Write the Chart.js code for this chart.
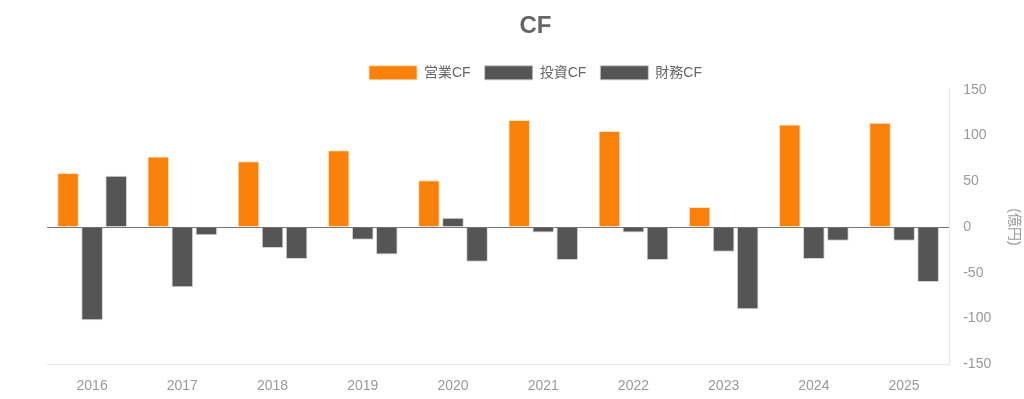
<!DOCTYPE html>
<html>
<head>
<meta charset="utf-8">
<script src="https://cdn.jsdelivr.net/npm/chart.js@4"></script>
<style>
html,body{margin:0;padding:0;background:#fff;}
#wrap{width:1024px;height:399px;position:relative;}
</style>
</head>
<body>
<div id="wrap"><canvas id="c" width="1024" height="399"></canvas></div>
<script>
const categories = ['2016','2017','2018','2019','2020','2021','2022','2023','2024','2025'];
const operatingCF = [59, 77, 72, 84, 51, 117, 105, 22, 112, 114];
const investingCF = [-102, -66, -23, -14, 10, -6, -6, -27, -35, -15];
const financingCF = [56, -9, -35, -30, -38, -36, -36, -90, -15, -60];
const seriesNames = ['営業CF', '投資CF', '財務CF'];
const yTicks = { min: -150, max: 150, step: 50 };
const titleText = 'CF';
const axisTitle = '(億円)';

const FONT = "'Liberation Sans', Arial, 'Noto Sans CJK JP', sans-serif";
Chart.defaults.font.family = FONT;

new Chart(document.getElementById('c'), {
  type: 'bar',
  data: {
    labels: categories,
    datasets: [
      { label: seriesNames[0], data: operatingCF, backgroundColor: '#fb820a', borderColor: 'rgba(255,220,180,0.8)', borderWidth: 1 },
      { label: seriesNames[1], data: investingCF, backgroundColor: '#555555', borderColor: 'rgba(200,200,200,0.8)', borderWidth: 1 },
      { label: seriesNames[2], data: financingCF, backgroundColor: '#555555', borderColor: 'rgba(200,200,200,0.8)', borderWidth: 1 }
    ]
  },
  options: {
    responsive: false,
    animation: false,
    layout: { padding: { left: 47, right: 0, top: 8, bottom: -10 } },
    plugins: {
      title: {
        display: true, text: titleText, color: '#666',
        font: { size: 24, weight: 'bold', family: FONT },
        padding: { top: 4, bottom: 11 }
      },
      legend: {
        position: 'top',
        labels: { boxWidth: 48, boxHeight: 14, color: '#666', font: { size: 14, family: FONT }, padding: 14 }
      },
      tooltip: { enabled: false }
    },
    scales: {
      x: {
        grid: { display: false, drawTicks: false },
        border: { display: true, color: '#e6e6e6' },
        ticks: { color: '#999', font: { size: 14 }, padding: 14 }
      },
      y: {
        position: 'right',
        min: yTicks.min, max: yTicks.max,
        ticks: { stepSize: yTicks.step, color: '#999', font: { size: 14 }, padding: 14 },
        grid: {
          drawTicks: false,
          color: (ctx) => (ctx.tick && ctx.tick.value === 0) ? '#777' : 'rgba(0,0,0,0)',
          lineWidth: 1
        },
        border: { display: true, color: '#e6e6e6' },
        title: { display: true, text: axisTitle, color: '#999', font: { size: 14 }, padding: { top: 2, bottom: 0 } }
      }
    }
  }
});
</script>
</body>
</html>
